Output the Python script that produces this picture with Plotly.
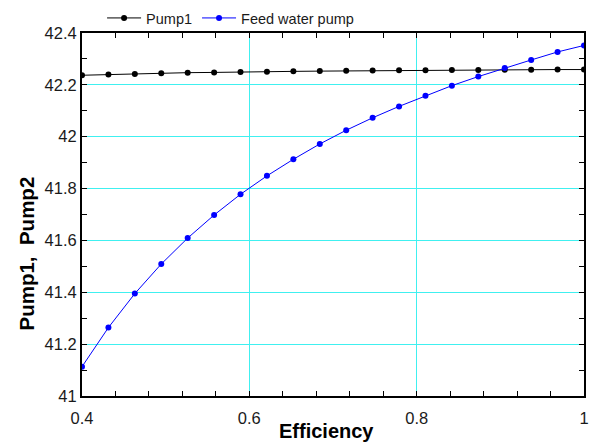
import numpy as np
import plotly.graph_objects as go

efficiency = [0.4 + i * 0.6 / 19 for i in range(20)]
pump1 = [42.237, 42.240, 42.242, 42.245, 42.247, 42.248, 42.250, 42.251, 42.252, 42.253,
         42.254, 42.255, 42.256, 42.256, 42.257, 42.257, 42.258, 42.258, 42.259, 42.259]
feed_water_pump = [41.113, 41.264, 41.395, 41.509, 41.609, 41.698, 41.778, 41.849, 41.913, 41.972,
                   42.025, 42.073, 42.117, 42.158, 42.197, 42.232, 42.265, 42.296, 42.327, 42.352]
series_names = ["Pump1", "Feed water pump"]
x_ticks = [0.4, 0.6, 0.8, 1.0]
x_ticklabels = ["0.4", "0.6", "0.8", "1"]
y_ticks = [41, 41.2, 41.4, 41.6, 41.8, 42, 42.2, 42.4]
y_ticklabels = ["41", "41.2", "41.4", "41.6", "41.8", "42", "42.2", "42.4"]
x_title = "Efficiency"
y_title = "Pump1,  Pump2"

FONT = "Liberation Sans, Arial, sans-serif"
GRID = "#40F0F0"

fig = go.Figure()
fig.add_trace(go.Scatter(x=efficiency, y=pump1, name=series_names[0], mode="lines+markers",
                         line=dict(color="black", width=1),
                         marker=dict(color="black", size=6, symbol="circle")))
fig.add_trace(go.Scatter(x=efficiency, y=feed_water_pump, name=series_names[1], mode="lines+markers",
                         line=dict(color="#0000FF", width=1),
                         marker=dict(color="#0000FF", size=6, symbol="circle")))

fig.update_layout(
    width=590, height=442,
    margin=dict(l=82, r=6, t=33, b=46, autoexpand=False),
    paper_bgcolor="white", plot_bgcolor="white",
    font=dict(family=FONT, color="#1a1a1a"),
    showlegend=True,
    legend=dict(orientation="h", x=0.040, xref="paper", y=1 - 18 / 442, yref="container",
                xanchor="left", yanchor="middle",
                font=dict(size=14.5, family=FONT, color="#1a1a1a"),
                bgcolor="rgba(0,0,0,0)", itemwidth=34, tracegroupgap=0,
                borderwidth=0),
    annotations=[
        dict(text="<b>" + y_title + "</b>", textangle=-90, xref="paper", yref="paper",
             x=(25.5 - 82) / 502, y=(396 - 254) / 363, xanchor="center", yanchor="middle",
             showarrow=False, font=dict(size=20.5, family=FONT, color="black")),
        dict(text="<b>" + x_title + "</b>", xref="paper", yref="paper",
             x=(326 - 82) / 502, y=(396 - 431) / 363, xanchor="center", yanchor="middle",
             showarrow=False, font=dict(size=20, family=FONT, color="black")),
    ],
)

fig.update_xaxes(
    range=[0.4, 1.0], tickvals=x_ticks, ticktext=x_ticklabels, automargin=False,
    showline=True, linecolor="black", linewidth=2, mirror="ticks",
    ticks="inside", ticklen=5, tickcolor="black", tickwidth=1,
    showgrid=True, gridcolor=GRID, gridwidth=1.2,
    zeroline=False, ticklabelstandoff=6,
    tickfont=dict(size=16.5, family=FONT, color="#1a1a1a"),
    minor=dict(dtick=0.04, tick0=0.4, ticks="inside", ticklen=5, tickcolor="black",
               showgrid=False),
)
fig.update_yaxes(
    range=[41, 42.4], tickvals=y_ticks, ticktext=y_ticklabels, automargin=False,
    showline=True, linecolor="black", linewidth=2, mirror="ticks",
    ticks="inside", ticklen=5, tickcolor="black", tickwidth=1,
    showgrid=True, gridcolor=GRID, gridwidth=1.2,
    zeroline=False, ticklabelstandoff=0,
    tickfont=dict(size=16.5, family=FONT, color="#1a1a1a"),
    minor=dict(dtick=0.1, tick0=41, ticks="inside", ticklen=5, tickcolor="black",
               showgrid=False),
)

fig.write_html("out.html", config={"displayModeBar": False},
               post_script="document.body.style.margin='0';document.body.style.overflow='hidden';")
